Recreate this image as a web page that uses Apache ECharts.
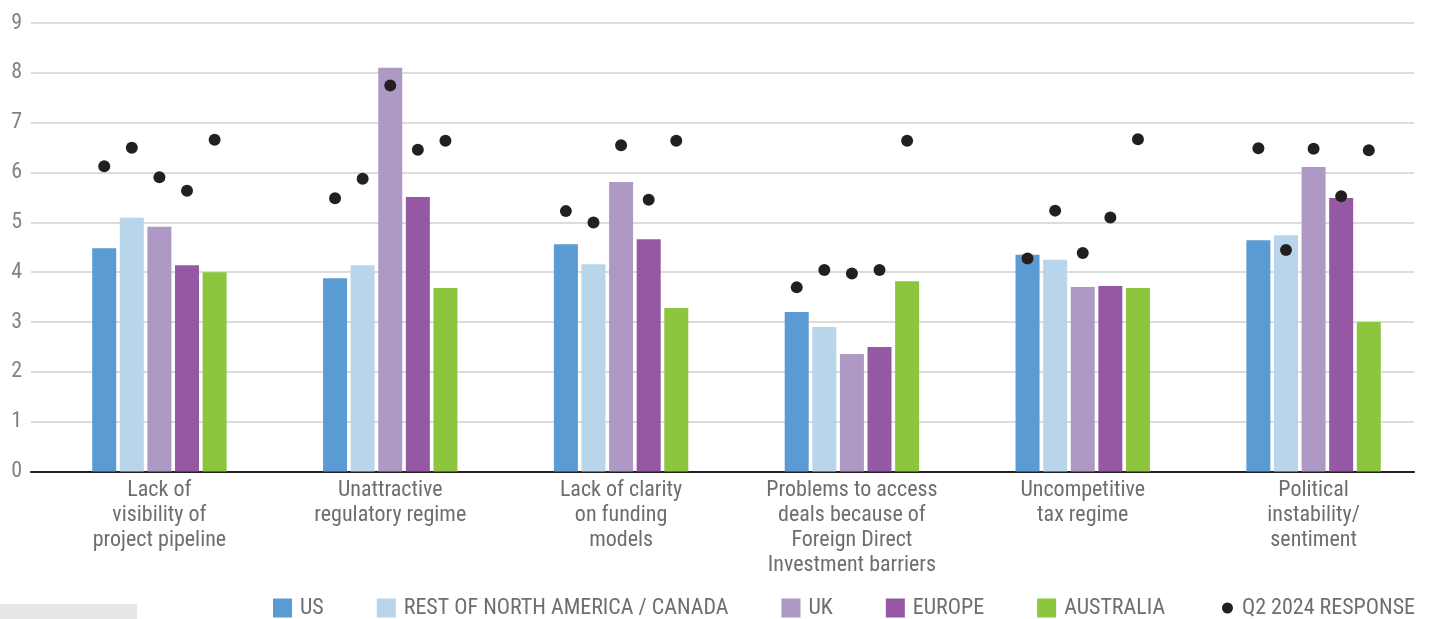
<!DOCTYPE html>
<html>
<head>
<meta charset="utf-8">
<script src="https://cdn.jsdelivr.net/npm/echarts@6/dist/echarts.min.js"></script>
<style>
html,body{margin:0;padding:0;background:#fff;}
#chart{width:1429px;height:619px;}
</style>
</head>
<body>
<div id="chart"></div>
<script>
var categories = [
  'Lack of\nvisibility of\nproject pipeline',
  'Unattractive\nregulatory regime',
  'Lack of clarity\non funding\nmodels',
  'Problems to access\ndeals because of\nForeign Direct\nInvestment barriers',
  'Uncompetitive\ntax regime',
  'Political\ninstability/\nsentiment'
];
var seriesNames = ['US', 'REST OF NORTH AMERICA / CANADA', 'UK', 'EUROPE', 'AUSTRALIA'];
var dotName = 'Q2 2024 RESPONSE';
var yTicks = [0, 1, 2, 3, 4, 5, 6, 7, 8, 9];

var usValues        = [4.48, 3.88, 4.56, 3.20, 4.35, 4.64];
var canadaValues    = [5.09, 4.14, 4.16, 2.90, 4.25, 4.74];
var ukValues        = [4.91, 8.10, 5.81, 2.36, 3.70, 6.11];
var europeValues    = [4.14, 5.51, 4.66, 2.50, 3.72, 5.49];
var australiaValues = [4.00, 3.68, 3.28, 3.82, 3.68, 3.00];

var q2Us        = [6.14, 5.50, 5.24, 3.71, 4.29, 6.50];
var q2Canada    = [6.51, 5.89, 5.01, 4.06, 5.25, 4.46];
var q2Uk        = [5.92, 7.76, 6.56, 3.99, 4.40, 6.49];
var q2Europe    = [5.65, 6.47, 5.47, 4.06, 5.11, 5.54];
var q2Australia = [6.67, 6.65, 6.65, 6.65, 6.68, 6.46];

var colors = ['#5b9bd3', '#b9d5ea', '#ae98c4', '#9558a3', '#8cc63f'];
var dotColor = '#231f20';
var FONT = "'Roboto Condensed', 'Liberation Sans Narrow', 'Liberation Sans', Arial, sans-serif";

var barData = [usValues, canadaValues, ukValues, europeValues, australiaValues];
var dotData = [q2Us, q2Canada, q2Uk, q2Europe, q2Australia];

var series = [];
barData.forEach(function (d, i) {
  series.push({
    name: seriesNames[i], type: 'bar', xAxisIndex: 1, yAxisIndex: 1,
    data: d, barWidth: 24, barGap: '15%',
    itemStyle: { color: colors[i] }, z: 2
  });
});
dotData.forEach(function (d, i) {
  series.push({
    name: dotName, type: 'pictorialBar', xAxisIndex: 1, yAxisIndex: 1,
    data: d, barWidth: 24, barGap: '15%',
    symbol: 'circle', symbolSize: 12, symbolPosition: 'end', symbolOffset: [0, '-50%'],
    itemStyle: { color: dotColor, borderColor: '#fff', borderWidth: 1.5 },
    z: 5
  });
});

var chart = echarts.init(document.getElementById('chart'), null, { renderer: 'canvas' });
chart.setOption({
  animation: false,
  backgroundColor: '#fff',
  textStyle: { fontFamily: FONT },
  grid: [
    { left: 31, right: 15, top: 23, bottom: 147.5 },
    { left: 44, right: 0, top: 23, bottom: 147.5 }
  ],
  xAxis: [
    { type: 'value', gridIndex: 0, min: 0, max: 1, show: true,
      axisLine: { show: true, onZero: true, lineStyle: { color: '#231f20', width: 2 } },
      axisTick: { show: false }, axisLabel: { show: false }, splitLine: { show: false } },
    { type: 'category', gridIndex: 1, data: categories,
      axisLine: { show: false }, axisTick: { show: false }, splitLine: { show: false },
      axisLabel: { interval: 0, margin: 6, fontSize: 22, lineHeight: 25, color: '#6d6e71', fontFamily: FONT, align: 'center' } }
  ],
  yAxis: [
    { type: 'value', gridIndex: 0, min: 0, max: 9, interval: 1,
      axisLine: { show: false }, axisTick: { show: false },
      axisLabel: { margin: 9, fontSize: 22, color: '#808285', fontFamily: FONT,
        formatter: function (v) { return yTicks.indexOf(v) >= 0 ? String(v) : ''; } },
      splitLine: { show: true, lineStyle: { color: '#dcdcdc', width: 2 } } },
    { type: 'value', gridIndex: 1, min: 0, max: 9, interval: 1, show: false,
      splitLine: { show: false } }
  ],
  legend: [
    { data: seriesNames.map(function (n) { return { name: n, icon: 'rect' }; }),
      left: 273, top: 597, padding: 0, itemWidth: 19, itemHeight: 19, itemGap: 53,
      textStyle: { fontSize: 22, color: '#6d6e71', fontFamily: FONT, padding: [0, 0, 0, 3] } },
    { data: [{ name: dotName, icon: 'circle' }],
      right: 14, top: 597, padding: 0, itemWidth: 13, itemHeight: 13,
      textStyle: { fontSize: 22, color: '#6d6e71', fontFamily: FONT, padding: [0, 0, 0, 3] } }
  ],
  graphic: [
    { type: 'rect', left: 0, top: 604, shape: { width: 137, height: 15 }, style: { fill: '#e6e7e8' }, silent: true }
  ],
  series: series
});
</script>
</body>
</html>
